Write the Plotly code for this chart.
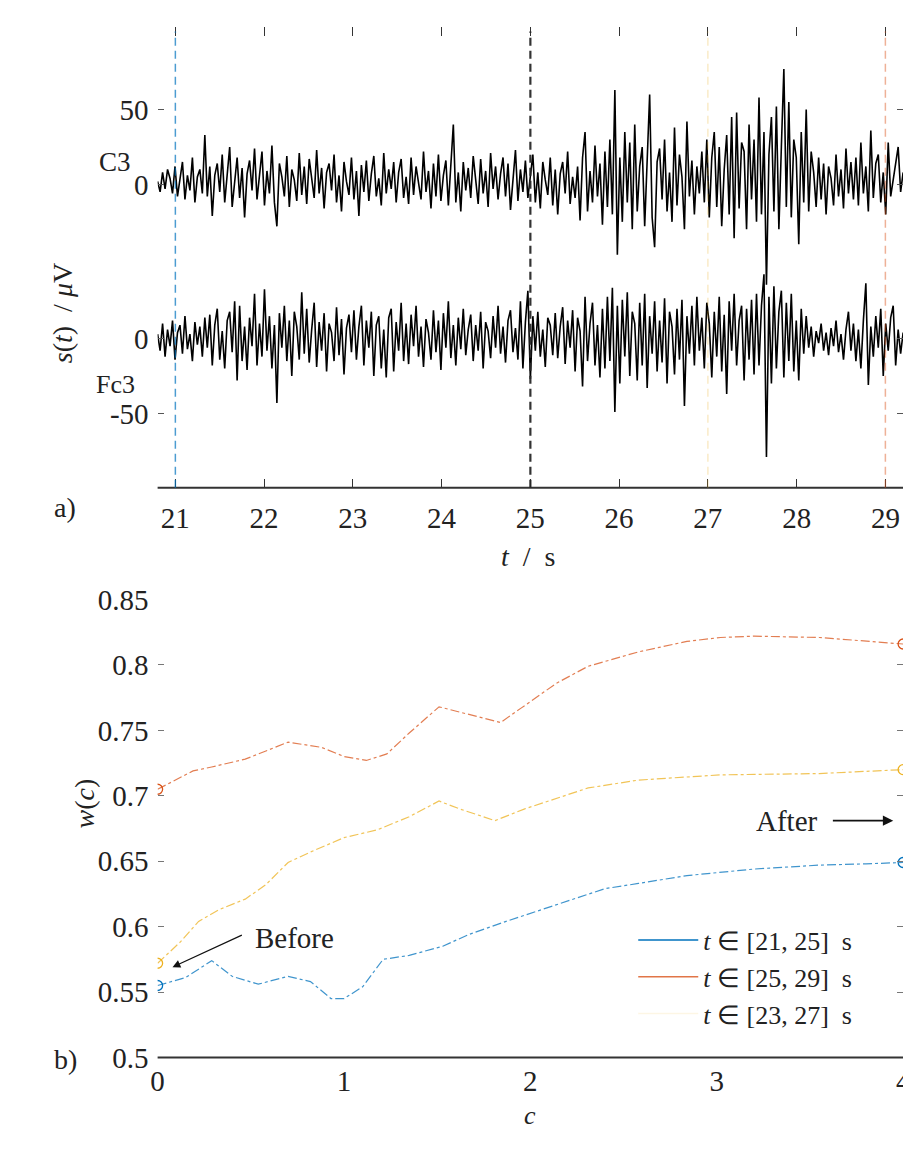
import numpy as np
import plotly.graph_objects as go

# ---------------- data ----------------
t_start, t_end, n_samples = 20.8, 29.2, 301
c3 = [2, -5, 8, -3, 10, 4, -6, 12, -8, 3, 15, -10, 6, -4, 18, -12, 5, 10, -6, 33,
      -8, 12, -21, 6, 14, -5, 20, -12, 8, 25, -15, 4, 18, -9, 11, -22, 7, 16, -4, 24,
      -10, 6, 22, -14, 9, -6, 26, -12, -28, 14, 5, -8, 19, -15, 10, 3, -11, 21, -7, 12,
      -13, 17, 4, -9, 23, -6, 11, -16, 8, 14, -4, 20, -12, 6, -18, 15, 2, -7, 18, -10,
      9, -21, 13, -5, 16, -11, 7, 19, -8, 4, -14, 21, -6, 10, -3, 15, -12, 8, 17, -9,
      5, -13, 18, -7, 12, 2, -10, 22, -5, 9, -16, 14, -8, 20, -11, 6, 16, -14, 10, 40,
      -12, 8, -18, 15, -4, 11, -9, 19, 3, -13, 17, -6, 9, -15, 21, -3, 12, -10, 7, 18,
      -8, 14, -17, 6, 23, -11, 10, -5, 16, -9, 4, 20, -12, 8, -16, 15, 3, -7, 18, -14,
      10, -20, 7, 15, -6, 22, -13, 5, -9, 12, -24, 18, 35, -18, 9, -12, 26, -8, 14, -27,
      22, -15, 30, -20, 63, -47, 18, -25, 35, -12, 28, -30, 40, -18, 12, 25, -28, 20, 60, -22,
      -42, 15, 24, -10, 30, -18, 8, -25, 38, -14, 20, 5, -30, 42, -8, 16, -20, 12, -6, 22,
      -12, 30, -22, 18, 35, -15, 25, -28, 10, 33, -20, 45, -36, 48, -16, 28, 22, -30, 40, -10,
      30, -25, 58, -20, 35, -67, 20, 45, -18, 52, -30, 25, 77, -15, 55, -22, 30, 18, -40, 35,
      -12, 50, -18, 22, 8, -15, 18, -10, 14, -20, 12, 4, -14, 20, -8, 10, -16, 24, -6, 15,
      -10, 18, -14, 28, -6, 12, -18, 36, -9, 14, 20, -12, 8, -20, 28, -8, 4, 15, 25, -5,
      8]
fc3 = [3, -8, 10, -12, 6, -5, 12, -14, 4, 9, -10, 15, -7, 3, -15, 11, -4, 8, -12, 14,
       -6, 16, -18, 9, 20, -14, 5, -20, 12, 18, -9, 25, -28, 22, -15, 8, -21, 14, -5, 30,
       -18, 10, -12, 33, -8, 15, -20, 9, -43, 17, -6, 22, -15, 12, -25, 18, 8, -14, 31, -10,
       20, -16, 6, 24, -19, 11, -8, 17, -22, 10, 4, -15, 21, -11, 13, -24, 7, 16, -9, 19,
       -14, 8, 22, -18, 12, -6, 18, -25, 9, 15, -20, 6, -26, 14, 20, -22, 11, -8, 24, -15,
       10, -17, 16, -5, 22, -12, 8, -19, 13, 4, -14, 19, -9, 12, -21, 17, -6, 25, -13, 9,
       -18, 14, -7, 20, -11, 6, 16, -15, 9, -8, 18, -20, 11, 5, -13, 15, -6, 22, -10, 8,
       -16, 12, 19, -9, 7, -14, 25, -20, 11, 32, -27, 15, -8, 18, -12, 6, -19, 14, 9, -11,
       17, -13, 8, 21, -17, 12, -6, 19, -22, 14, 5, -32, 28, -15, 10, 24, -18, 9, -26, 20,
       -20, 28, -15, 34, -49, 22, -30, 26, -12, 31, -25, 18, 10, -28, 24, -18, 30, -33, 15, -10,
       25, -22, 12, -16, 27, -30, 18, 8, -24, 20, -14, 26, -45, 15, -10, 22, -18, 28, -8, 14,
       -20, 24, 10, -26, 18, -12, 28, -22, 16, -37, 25, -8, 30, -18, 12, 22, -28, 20, -14, 26,
       -24, 30, -18, 22, 43, -79, 28, -30, 35, -20, 18, 32, -26, 24, -15, 30, -22, 12, -28, 20,
       -10, 15, -6, 8, -12, 5, -3, 10, -8, 4, -11, 7, -5, 12, -9, 3, -14, 6, 18, -8,
       10, -15, 6, -20, 12, 37, -31, 8, -12, 15, -6, 20, -25, 10, -8, 14, 22, -18, 6, -10,
       4]
fc3_offset = -103
marker_times = [21, 25, 27, 29]
marker_colors = ["rgba(0,114,189,0.7)", "rgba(40,40,40,0.95)",
                 "rgba(237,177,32,0.25)", "rgba(217,83,25,0.45)"]
top_xticks = [21, 22, 23, 24, 25, 26, 27, 28, 29]

c_blue = [0.0, 0.15, 0.29, 0.40, 0.54, 0.70, 0.82, 0.93, 1.0, 1.10, 1.21, 1.35, 1.53, 1.67,
          1.87, 2.14, 2.40, 2.58, 2.84, 3.20, 3.55, 3.80, 4.0]
w_blue = [0.555, 0.561, 0.574, 0.562, 0.556, 0.562, 0.558, 0.545, 0.545, 0.554, 0.575, 0.578,
          0.585, 0.594, 0.604, 0.617, 0.629, 0.633, 0.639, 0.644, 0.647, 0.648, 0.649]
c_red = [0.0, 0.19, 0.29, 0.47, 0.70, 0.88, 1.0, 1.12, 1.23, 1.35, 1.51, 1.62, 1.84, 1.95,
         2.14, 2.31, 2.58, 2.84, 3.02, 3.20, 3.55, 4.0]
w_red = [0.705, 0.719, 0.722, 0.728, 0.741, 0.737, 0.730, 0.727, 0.732, 0.748, 0.768, 0.764,
         0.756, 0.767, 0.786, 0.799, 0.810, 0.818, 0.821, 0.822, 0.821, 0.816]
c_yel = [0.0, 0.12, 0.22, 0.33, 0.47, 0.58, 0.70, 0.82, 1.0, 1.18, 1.35, 1.51, 1.62, 1.81,
         1.97, 2.31, 2.58, 3.02, 3.55, 4.0]
w_yel = [0.572, 0.588, 0.604, 0.613, 0.621, 0.632, 0.649, 0.657, 0.668, 0.674, 0.684, 0.696,
         0.690, 0.681, 0.690, 0.706, 0.712, 0.716, 0.717, 0.720]
series_names = ["<i>t</i> ∈ [21, 25]  s", "<i>t</i> ∈ [25, 29]  s", "<i>t</i> ∈ [23, 27]  s"]
series_colors = ["#0072BD", "#D95319", "#EDB120"]
bottom_xticks = [0, 1, 2, 3, 4]
bottom_yticks = [0.5, 0.55, 0.6, 0.65, 0.7, 0.75, 0.8, 0.85]

# ---------------- figure ----------------
FONT = "Liberation Serif"
W, H = 911, 1151
def py(px):
    return 1 - px / H

t = np.linspace(t_start, t_end, n_samples)
fig = go.Figure()
fig.add_trace(go.Scatter(x=t, y=c3, mode="lines", line=dict(color="black", width=1.6),
                         showlegend=False, xaxis="x", yaxis="y"))
fig.add_trace(go.Scatter(x=t, y=np.array(fc3) + fc3_offset, mode="lines",
                         line=dict(color="black", width=1.6), showlegend=False,
                         xaxis="x", yaxis="y"))

for cc, ww, col in zip([c_blue, c_red, c_yel], [w_blue, w_red, w_yel], series_colors):
    fig.add_trace(go.Scatter(x=cc, y=ww, mode="lines", line=dict(color=col, width=1.2, dash="dashdot"),
                             opacity=0.75, showlegend=False, xaxis="x2", yaxis="y2"))
    fig.add_trace(go.Scatter(x=[cc[0], cc[-1]], y=[ww[0], ww[-1]], mode="markers",
                             marker=dict(symbol="circle-open", size=10, color=col, line=dict(width=1.3)),
                             showlegend=False, xaxis="x2", yaxis="y2"))
for name, col, op in zip(series_names, series_colors, [1, 0.8, 0.12]):
    fig.add_trace(go.Scatter(x=[None], y=[None], mode="lines", name=name,
                             line=dict(color=col, width=1.5), opacity=op,
                             xaxis="x2", yaxis="y2"))

xdom = [145 / W, 903 / W]
axis_font = dict(family=FONT, size=29, color="#222")
fig.update_layout(
    width=W, height=H, margin=dict(l=0, r=0, t=0, b=0),
    plot_bgcolor="white", paper_bgcolor="white",
    font=dict(family=FONT, size=29, color="#222"),
    xaxis=dict(domain=xdom, range=[20.8, 29.2], tickvals=top_xticks, ticks="inside",
               ticklen=9, tickwidth=1.3, tickcolor="#333", mirror="ticks", showline=False,
               showgrid=False, zeroline=False, tickfont=axis_font, ticklabelstandoff=10,
               anchor="y"),
    yaxis=dict(domain=[py(477), py(3)], range=[-202.6, 105.2],
               tickvals=[fc3_offset - 50, fc3_offset, 0, 50], ticktext=["-50", "0", "0", "50"],
               ticks="inside", ticklen=6, tickwidth=1, tickcolor="#555", mirror="ticks",
               showline=False, showgrid=False, zeroline=False, tickfont=axis_font,
               ticklabelstandoff=8, anchor="x"),
    xaxis2=dict(domain=xdom, range=[0, 4], tickvals=bottom_xticks, ticks="",
                showline=False, showgrid=False, zeroline=False, tickfont=axis_font,
                ticklabelstandoff=4, anchor="y2"),
    yaxis2=dict(domain=[py(1063), py(592)], range=[0.5, 0.85], tickvals=bottom_yticks,
                ticktext=["0.5", "0.55", "0.6", "0.65", "0.7", "0.75", "0.8", "0.85"],
                ticks="inside", ticklen=6, tickwidth=1, tickcolor="#777", mirror="ticks",
                showline=False, showgrid=False, zeroline=False, tickfont=axis_font,
                ticklabelstandoff=8, anchor="x2"),
    legend=dict(x=0.69, y=py(918), xanchor="left", yanchor="top", bgcolor="rgba(0,0,0,0)",
                font=dict(family=FONT, size=26, color="#222"), tracegroupgap=0,
                itemwidth=60),
)

# axis lines
fig.add_shape(type="line", xref="paper", yref="paper", x0=xdom[0], x1=xdom[1],
              y0=py(477), y1=py(477), line=dict(color="#333", width=2))
fig.add_shape(type="line", xref="paper", yref="paper", x0=xdom[0], x1=xdom[1],
              y0=py(1063), y1=py(1063), line=dict(color="#333", width=2))

# vertical dashed markers
for tm, col in zip(marker_times, marker_colors):
    fig.add_shape(type="line", xref="x", yref="y domain", x0=tm, x1=tm, y0=0, y1=0.99,
                  line=dict(color=col, width=2.2 if tm == 25 else 1.5, dash="8px,5px"))

ann = []
def text(x, y, s, size=29, angle=0, xref="paper", yref="paper", **kw):
    ann.append(dict(x=x, y=y, xref=xref, yref=yref, text=s, showarrow=False,
                    font=dict(family=FONT, size=size, color="#222"), textangle=angle, **kw))

text(83 / W, py(124), "C3", size=27)
text(80 / W, py(354), "Fc3", size=26)
text(30 / W, py(244), "<i>s</i>(<i>t</i>)  / <i>μ</i>V", angle=-90, size=28)
text(522 / W, py(548), "<i>t</i>  /  s", size=28)
text(38 / W, py(497), "a)", size=28)
text(38 / W, py(1083), "b)", size=28)
text(524 / W, py(1140), "<i>c</i>", size=26)
text(53 / W, py(830), "<i>w</i>(<i>c</i>)", angle=-90, size=28)
text(0.733, 0.591, "Before", xref="x2", yref="y2", size=29)
text(3.377, 0.681, "After", xref="x2", yref="y2", size=29)
ann.append(dict(x=0.08, y=0.569, ax=0.46, ay=0.594, xref="x2", yref="y2", axref="x2",
                ayref="y2", text="", showarrow=True, arrowhead=2, arrowsize=1.3,
                arrowwidth=1.2, arrowcolor="#111"))
ann.append(dict(x=3.947, y=0.681, ax=3.615, ay=0.681, xref="x2", yref="y2", axref="x2",
                ayref="y2", text="", showarrow=True, arrowhead=2, arrowsize=1.3,
                arrowwidth=1.6, arrowcolor="#111"))
fig.update_layout(annotations=ann)

fig.write_html("out.html")
